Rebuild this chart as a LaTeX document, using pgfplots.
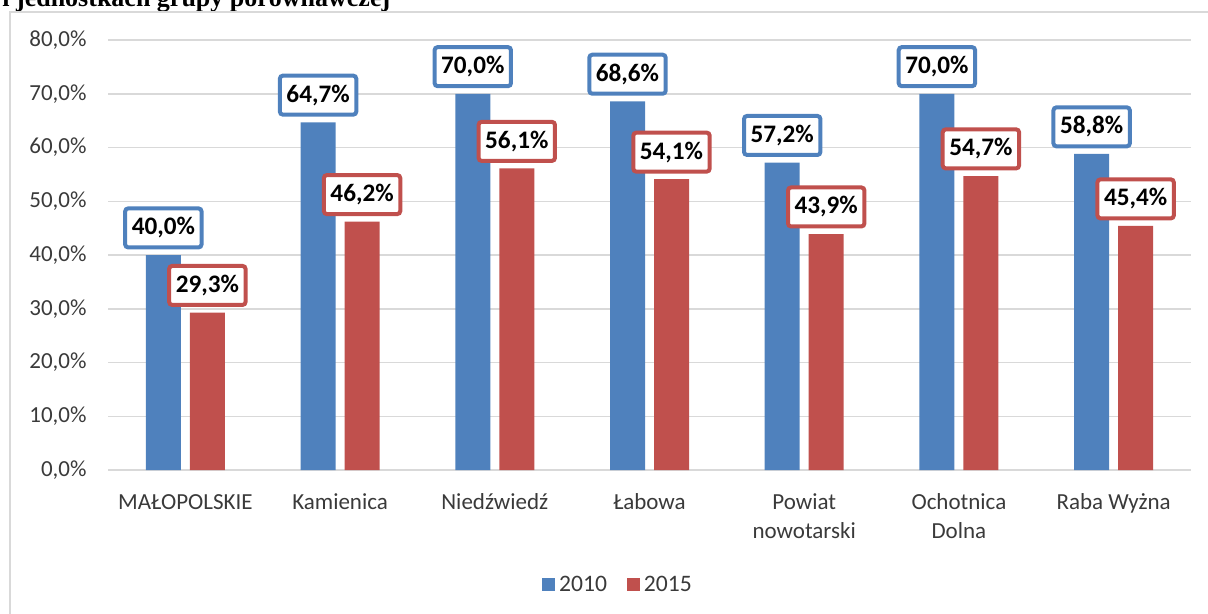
\documentclass[border=0pt]{standalone}
\usepackage{fontspec}
\setmainfont{Carlito}
\newfontfamily\titlefont{Liberation Serif}
\usepackage{pgfplots}
\pgfplotsset{compat=1.18}
\definecolor{s2010}{HTML}{4F81BD}
\definecolor{s2015}{HTML}{C0504D}
\definecolor{gridgray}{HTML}{D9D9D9}
\definecolor{ticktext}{HTML}{3A3A3A}

\begin{document}
\begin{tikzpicture}
\useasboundingbox (0,0) rectangle (604pt,-307pt);
\clip (0,0) rectangle (604pt,-307pt);
% cut-off heading above the chart
\node[anchor=base west, inner sep=0pt, font=\titlefont\bfseries\fontsize{13}{15}\selectfont]
  at (1pt,-3.5pt) {i jednostkach grupy porównawczej};
% chart area frame (runs off the right and bottom edges)
\draw[gridgray, line width=1pt] (4.75pt,-320pt) -- (4.75pt,-6pt) -- (620pt,-6pt);
\begin{axis}[
  at={(54pt,-235pt)}, anchor=south west,
  scale only axis, width=541.5pt, height=215pt,
  xmin=-0.5, xmax=6.5, ymin=0, ymax=80,
  ybar=4.5pt, bar width=17.5pt,
  axis lines*=left, axis line style={draw=none}, major tick length=0pt,
  ymajorgrids, grid style={gridgray, line width=0.75pt},
  ytick={0,10,...,80},
  yticklabels={{0,0\%},{10,0\%},{20,0\%},{30,0\%},{40,0\%},{50,0\%},{60,0\%},{70,0\%},{80,0\%}},
  xtick={0,...,6},
  xticklabels={{\strut MAŁOPOLSKIE},{\strut Kamienica},{\strut Niedźwiedź},{\strut Łabowa},
    {\strut Powiat\\nowotarski},{\strut Ochotnica\\Dolna},{\strut Raba Wyżna}},
  tick label style={font=\fontsize{11.5}{14.5}\selectfont, text=ticktext},
  yticklabel style={xshift=-7.2pt},
  xticklabel style={align=center, anchor=north, yshift=-6pt},
  nodes near coords={\pgfmathprintnumber[fixed,fixed zerofill,precision=1,use comma,assume math mode=true]{\pgfplotspointmeta}\%},
  every node near coord/.append style={fill=white, text=black, line width=2pt,
    rounded corners=1.5pt, font=\bfseries\fontsize{12.6}{14}\selectfont,
    inner xsep=3.3pt, minimum height=19.5pt, anchor=south, yshift=2.8pt},
  legend style={at={(0.4718,-0.2674)}, anchor=center, draw=none, fill=none,
    legend columns=-1, font=\fontsize{11.8}{14}\selectfont, text=ticktext,
    /tikz/every even column/.append style={column sep=8pt}},
  legend image code/.code={\fill[#1] (0pt,-3pt) rectangle (6.5pt,3.5pt);},
]
\addplot[fill=s2010, draw=none, every node near coord/.append style={draw=s2010}]
  coordinates {(0,40.0) (1,64.7) (2,70.0) (3,68.6) (4,57.2) (5,70.0) (6,58.8)};
\addlegendentry{2010}
\addplot[fill=s2015, draw=none, every node near coord/.append style={draw=s2015}]
  coordinates {(0,29.3) (1,46.2) (2,56.1) (3,54.1) (4,43.9) (5,54.7) (6,45.4)};
\addlegendentry{2015}
\end{axis}
\end{tikzpicture}
\end{document}
